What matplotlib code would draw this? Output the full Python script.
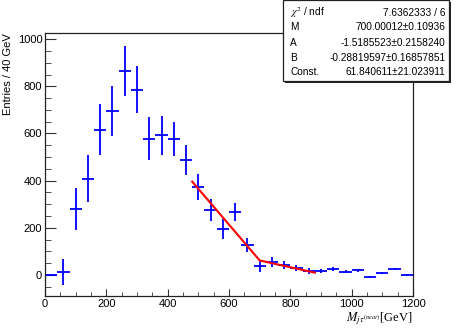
import numpy as np
import matplotlib
matplotlib.use('Agg')
import matplotlib.pyplot as plt
from matplotlib.patches import Rectangle
from matplotlib.ticker import MultipleLocator

plt.rcParams['font.family'] = ['Liberation Sans', 'DejaVu Sans']
plt.rcParams['mathtext.fontset'] = 'stix'

##### DATA #####
# bin centres (40 GeV bins), contents and errors
bin_centers = [20, 60, 100, 140, 180, 220, 260, 300, 340, 380,
               420, 460, 500, 540, 580, 620, 660, 700, 740, 780,
               820, 860, 900, 940, 980, 1020, 1060, 1100, 1140, 1180]
counts = [2, 14, 279, 408, 616, 695, 866, 786, 577, 592,
          576, 488, 375, 276, 195, 268, 126, 38, 54, 42,
          30, 18, 17, 25, 14, 20, -7, 10, 25, 0]
errors = [4, 55, 89, 100, 107, 107, 107, 99, 91, 84,
          72, 65, 55, 47, 44, 37, 30, 27, 21, 17,
          13, 12, 9, 8, 6, 6, 4, 4, 5, 3]
bin_half_width = 20

# fit result (broken line)
fit_M = 700.00012
fit_A = -1.5185523
fit_B = -0.28819597
fit_const = 61.840611
fit_range = [480, 880]

stat_names = ['$\\chi^2$ / ndf', 'M', 'A', 'B', 'Const.']
stat_values = ['7.6362333 / 6', '700.00012\u00b10.10936', '-1.5185523\u00b10.2158240',
               '-0.28819597\u00b10.16857851', '61.840611\u00b121.023911']

##### PLOT #####
fig = plt.figure(figsize=(4.58, 3.30), dpi=100)
ax = fig.add_axes([0.0983, 0.103, 0.8034, 0.797])

ax.errorbar(bin_centers, counts, yerr=errors, xerr=bin_half_width, fmt='none',
            ecolor='#0000ff', elinewidth=1.3, capsize=0)

xs = np.array([fit_range[0], fit_M, fit_range[1]])
fit_y = np.where(xs < fit_M, fit_const + fit_A * (xs - fit_M), fit_const + fit_B * (xs - fit_M))
ax.plot(xs, fit_y, color='#ff0000', lw=1.5, zorder=3)

ax.set_xlim(0, 1200)
ax.set_ylim(-89, 1026)
ax.xaxis.set_major_locator(MultipleLocator(200))
ax.xaxis.set_minor_locator(MultipleLocator(50))
ax.yaxis.set_major_locator(MultipleLocator(200))
ax.yaxis.set_minor_locator(MultipleLocator(50))
ax.tick_params(axis='both', which='both', direction='in', color='#333333', labelsize=8, pad=2)
ax.tick_params(axis='y', which='major', length=8)
ax.tick_params(axis='y', which='minor', length=4.3)
ax.tick_params(axis='x', which='major', length=5.4)
ax.tick_params(axis='x', which='minor', length=2.9)
for sp in ax.spines.values():
    sp.set_linewidth(0.9)
    sp.set_color('#222222')

ax.set_ylabel('Entries / 40 GeV', fontsize=8, loc='top', labelpad=3)
ax.set_xlabel('$M_{j\\tau^{(near)}}$[GeV]', fontsize=9, loc='right', labelpad=1,
              family='Liberation Serif')

# stats box (drawn over the frame, with a small shadow)
bx0, by0, bw, bh = 0.618, 0.755, 0.362, 0.245
fig.patches.append(Rectangle((bx0 + 0.004, by0 - 0.006), bw, bh, transform=fig.transFigure,
                             facecolor='#222222', edgecolor='none', zorder=5))
fig.patches.append(Rectangle((bx0, by0), bw, bh, transform=fig.transFigure,
                             facecolor='white', edgecolor='#222222', lw=0.9, zorder=6))
row_y = [0.962, 0.917, 0.870, 0.825, 0.782]
for name, val, yy in zip(stat_names, stat_values, row_y):
    fig.text(bx0 + 0.016, yy, name, fontsize=7.3, va='center', ha='left', zorder=7)
    fig.text(bx0 + bw - 0.008, yy, val, fontsize=7.3, va='center', ha='right', zorder=7)

fig.savefig('out.png', dpi=100)
